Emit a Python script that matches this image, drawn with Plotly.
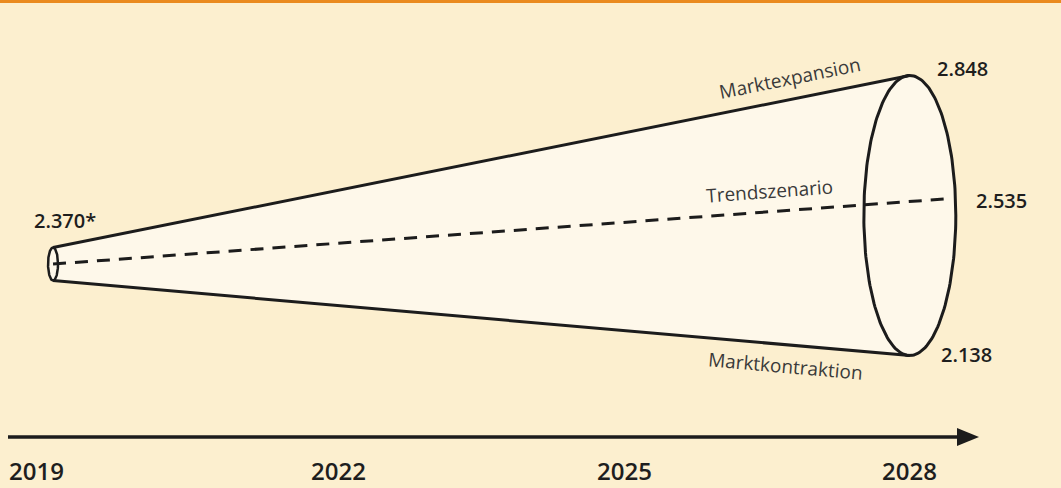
import math
import numpy as np
import plotly.graph_objects as go

# ---------------- data ----------------
tick_years = [2019, 2022, 2025, 2028]
tick_labels = ["2019", "2022", "2025", "2028"]
start_year = 2019
end_year = 2028
start_value = 2.370
start_label = "2.370*"
scenario_names = ["Marktexpansion", "Trendszenario", "Marktkontraktion"]
scenario_values_2028 = [2.848, 2.535, 2.138]
scenario_value_labels = ["2.848", "2.535", "2.138"]

# ---------------- styling ----------------
W, H = 1061, 488
BG = "#fcefcf"
CONE = "#fef8ea"
INK = "#1c1c1c"
ORANGE = "#ea8a1f"
X_RANGE = [2018.443, 2029.588]
Y_RANGE = [1.8023, 3.0393]
PPX = W / (X_RANGE[1] - X_RANGE[0])   # px per year
PPY = H / (Y_RANGE[1] - Y_RANGE[0])   # px per value unit

exp_v, trend_v, con_v = scenario_values_2028
h0 = 16.5 / PPY          # half height of start ellipse
w0 = 5 / PPX             # half width of start ellipse
w1 = 46 / PPX            # half width of end ellipse
c1 = (exp_v + con_v) / 2
h1 = (exp_v - con_v) / 2
trend_end = end_year + 35 / PPX

t = np.linspace(0, 2 * np.pi, 200)

fig = go.Figure()

# cone body fill
tl = np.linspace(np.pi / 2, 3 * np.pi / 2, 60)      # left half of start ellipse
tr = np.linspace(-np.pi / 2, np.pi / 2, 120)        # right half of end ellipse
xs = list(start_year + w0 * np.cos(tl)) + list(end_year + w1 * np.cos(tr))
ys = list(start_value + h0 * np.sin(tl)) + list(c1 + h1 * np.sin(tr))
fig.add_trace(go.Scatter(x=xs + [xs[0]], y=ys + [ys[0]], mode="lines", fill="toself",
                         fillcolor=CONE, line=dict(width=0), hoverinfo="skip"))

# cone edges
fig.add_trace(go.Scatter(x=[start_year, end_year], y=[start_value + h0, exp_v], mode="lines",
                         line=dict(color=INK, width=3), hoverinfo="skip"))
fig.add_trace(go.Scatter(x=[start_year, end_year], y=[start_value - h0, con_v], mode="lines",
                         line=dict(color=INK, width=3), hoverinfo="skip"))
# trend dashed
fig.add_trace(go.Scatter(x=[start_year, trend_end], y=[start_value, trend_v], mode="lines",
                         line=dict(color=INK, width=3, dash="13px,9px"), hoverinfo="skip"))
# ellipses
fig.add_trace(go.Scatter(x=end_year + w1 * np.cos(t), y=c1 + h1 * np.sin(t), mode="lines",
                         line=dict(color=INK, width=3), hoverinfo="skip"))
fig.add_trace(go.Scatter(x=start_year + w0 * np.cos(t), y=start_value + h0 * np.sin(t), mode="lines",
                         line=dict(color=INK, width=2.5), hoverinfo="skip"))


def angle(x0, y0, x1, y1):
    return -math.degrees(math.atan2((y1 - y0) * PPY, (x1 - x0) * PPX))


def on_line(x0, y0, x1, y1, x):
    return y0 + (y1 - y0) * (x - x0) / (x1 - x0)


lab_font = dict(family="Open Sans", size=19, color="#3a3a3a")
# scenario labels along the lines
segs = [
    (start_year, start_value + h0, end_year, exp_v, 2026.74, 22),
    (start_year, start_value, trend_end, trend_v, 2026.53, 21),
    (start_year, start_value - h0, end_year, con_v, 2026.69, -21),
]
for name, (x0, y0, x1, y1, xl, ys_) in zip(scenario_names, segs):
    fig.add_annotation(x=xl, y=on_line(x0, y0, x1, y1, xl), yshift=ys_, text=name,
                       showarrow=False, textangle=angle(x0, y0, x1, y1), font=lab_font,
                       xanchor="center", yanchor="middle")

val_font = dict(family="Open Sans", size=20, color="#1e1e1e", weight=600)
fig.add_annotation(x=start_year, y=start_value + h0, xshift=12, yshift=27, text=start_label,
                   showarrow=False, font=val_font, xanchor="center", yanchor="middle")
fig.add_annotation(x=end_year, y=exp_v, xshift=53, yshift=7, text=scenario_value_labels[0],
                   showarrow=False, font=val_font, xanchor="center", yanchor="middle")
fig.add_annotation(x=trend_end, y=trend_v, xshift=57, yshift=-2, text=scenario_value_labels[1],
                   showarrow=False, font=val_font, xanchor="center", yanchor="middle")
fig.add_annotation(x=end_year, y=con_v, xshift=57, yshift=1, text=scenario_value_labels[2],
                   showarrow=False, font=val_font, xanchor="center", yanchor="middle")

# year labels
yr_font = dict(family="Open Sans", size=24, color="#1e1e1e", weight=600)
for yv, yl in zip(tick_years, tick_labels):
    fig.add_annotation(x=yv, xref="x", y=1 - 470 / H, yref="paper", text=yl, showarrow=False,
                       font=yr_font, xanchor="center", yanchor="middle",
                       xshift=-17 if yv == tick_years[0] else 0)


def px(x):
    return x / W


def py(y):
    return 1 - y / H


shapes = [
    dict(type="rect", xref="paper", yref="paper", x0=0, x1=1, y0=py(3), y1=1,
         fillcolor=ORANGE, line=dict(width=0), layer="above"),
    dict(type="line", xref="paper", yref="paper", x0=px(8), x1=px(960), y0=py(437), y1=py(437),
         line=dict(color=INK, width=3.5)),
    dict(type="path", xref="paper", yref="paper",
         path=f"M {px(957)} {py(428)} L {px(979)} {py(437)} L {px(957)} {py(446)} Z",
         fillcolor=INK, line=dict(width=0)),
]

fig.update_layout(
    width=W, height=H, margin=dict(l=0, r=0, t=0, b=0),
    paper_bgcolor=BG, plot_bgcolor=BG, showlegend=False,
    xaxis=dict(range=X_RANGE, visible=False, fixedrange=True),
    yaxis=dict(range=Y_RANGE, visible=False, fixedrange=True),
    shapes=shapes,
)

fig.write_html("out.html")
